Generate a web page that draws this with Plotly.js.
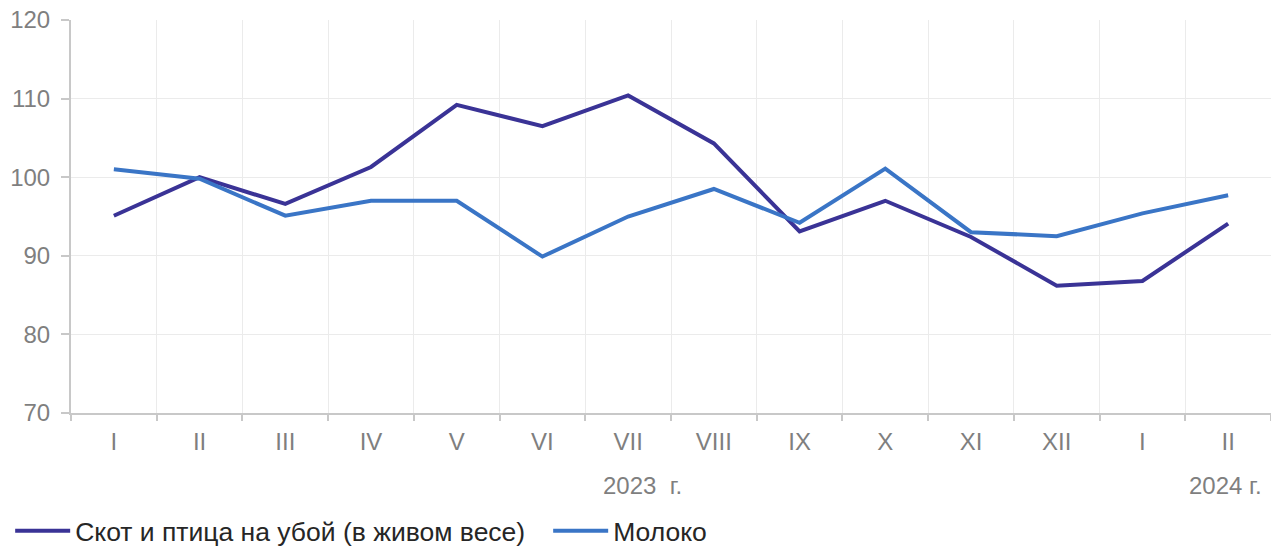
<!DOCTYPE html>
<html>
<head>
<meta charset="utf-8">
<script src="https://cdn.plot.ly/plotly-3.0.1.min.js"></script>
<style>html,body{margin:0;padding:0;background:#fff;}#chart{width:1271px;height:547px;}</style>
</head>
<body>
<div id="chart"></div>
<script>
const categories = ["I","II","III","IV","V","VI","VII","VIII","IX","X","XI","XII","I","II"];
const seriesNames = ["Скот и птица на убой (в живом весе)", "Молоко"];
const livestock = [95.1, 100.0, 96.6, 101.3, 109.2, 106.5, 110.4, 104.3, 93.1, 97.0, 92.4, 86.2, 86.8, 94.1];
const milk = [101.0, 99.8, 95.1, 97.0, 97.0, 89.9, 95.0, 98.5, 94.2, 101.1, 93.0, 92.5, 95.4, 97.7];
const yearLabels = ["2023\u00a0\u00a0г.", "2024 г."];
const yearPositions = [6.17, 12.97];
const yTicks = [70, 80, 90, 100, 110, 120];

const xs = categories.map((_, i) => i);
const font = "Liberation Sans, Arial, sans-serif";
const plotTop = 20, plotBottom = 413, H = 547;
const plotH = plotBottom - plotTop;

const traces = [
  {x: xs, y: livestock, name: seriesNames[0], type: "scatter", mode: "lines",
   line: {color: "#3a3396", width: 4}},
  {x: xs, y: milk, name: seriesNames[1], type: "scatter", mode: "lines",
   line: {color: "#3a75c6", width: 4}}
];

const layout = {
  width: 1271, height: H,
  margin: {l: 71, r: 0, t: plotTop, b: H - plotBottom, autoexpand: false},
  paper_bgcolor: "#fff", plot_bgcolor: "#fff",
  font: {family: font, color: "#7f7f7f", size: 24},
  showlegend: true,
  legend: {orientation: "h", xref: "container", yref: "container", x: 0.008, y: (H - 531) / H,
           xanchor: "left", yanchor: "middle", itemwidth: 55, entrywidth: 468,
           font: {family: font, size: 26.5, color: "#262626"}, traceorder: "normal"},
  xaxis: {
    range: [-0.5, 13.5], tickmode: "array", tickvals: xs, ticktext: categories,
    ticks: "", showgrid: false, zeroline: false, showline: true,
    linecolor: "#c8c8c8", linewidth: 2, fixedrange: true, ticklabelstandoff: 6,
    tickfont: {family: font, size: 24, color: "#7f7f7f"},
    minor: {tickmode: "linear", tick0: -0.5, dtick: 1, ticks: "outside", ticklen: 6,
            tickwidth: 2, tickcolor: "#c8c8c8", showgrid: true, gridcolor: "#ebebeb", gridwidth: 1}
  },
  yaxis: {
    range: [70, 120], tickmode: "array", tickvals: yTicks,
    ticks: "outside", ticklen: 8, tickwidth: 2, tickcolor: "#c8c8c8",
    showgrid: true, gridcolor: "#ebebeb", gridwidth: 1, zeroline: false,
    showline: true, linecolor: "#c8c8c8", linewidth: 2, ticklabelstandoff: 6,
    tickfont: {family: font, size: 24, color: "#7f7f7f"}
  },
  annotations: yearLabels.map((t, i) => ({
    text: t, x: yearPositions[i], xref: "x", yref: "paper",
    y: -(485 - plotBottom) / plotH, yanchor: "middle",
    showarrow: false, font: {family: font, size: 24, color: "#7f7f7f"}
  }))
};

Plotly.newPlot("chart", traces, layout, {displayModeBar: false, staticPlot: true});
</script>
</body>
</html>
